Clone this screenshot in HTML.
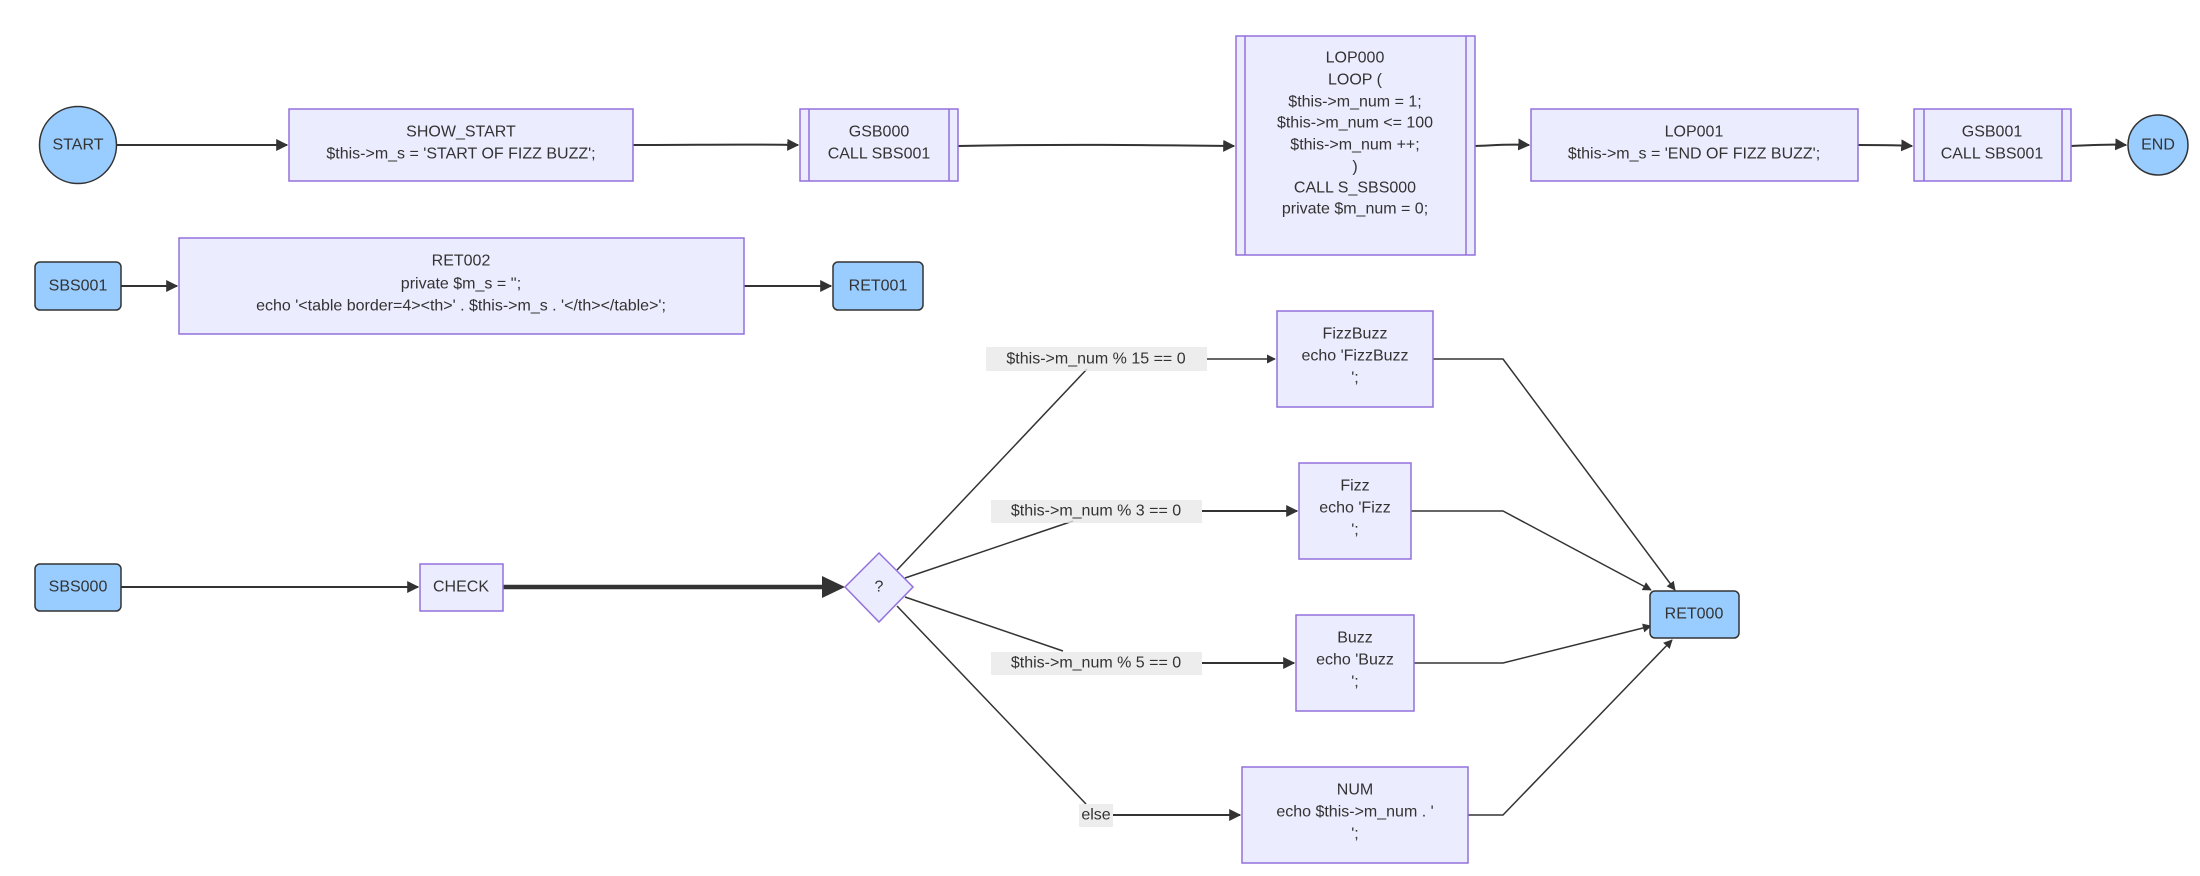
<!DOCTYPE html>
<html><head><meta charset="utf-8"><style>
html,body{margin:0;padding:0;background:#fff;}
svg{display:block;}
text{font-family:"Liberation Sans",sans-serif;font-size:16px;fill:#333;text-anchor:middle;dominant-baseline:central;}
.n{fill:#ECECFF;stroke:#9370DB;stroke-width:1.5;}
.b{fill:#99CCFF;stroke:#333;stroke-width:1.5;}
.e{fill:none;stroke:#333;stroke-width:2;}
.t{fill:none;stroke:#333;stroke-width:1.5;}
.lb{fill:#e8e8e8;opacity:0.8;}
</style></head><body>
<svg width="2200" height="876" viewBox="0 0 2200 876" xmlns="http://www.w3.org/2000/svg">
<defs>
<marker id="a" viewBox="0 0 10 10" refX="9" refY="5" markerWidth="6" markerHeight="6" orient="auto"><path d="M0,0 L10,5 L0,10 z" fill="#333"/></marker>
</defs>

<!-- top row edges -->
<path class="e" d="M117,145 L287,145" marker-end="url(#a)"/>
<path class="e" d="M633,145 C700,145 740,144 798,145" marker-end="url(#a)"/>
<path class="e" d="M958,146 C1060,144 1150,145 1234,146" marker-end="url(#a)"/>
<path class="e" d="M1475,146 C1500,145 1510,144 1529,145" marker-end="url(#a)"/>
<path class="e" d="M1858,145 C1880,145 1895,145 1912,146" marker-end="url(#a)"/>
<path class="e" d="M2071,146 C2095,145 2110,144 2126,145" marker-end="url(#a)"/>

<!-- top row nodes -->
<circle class="b" cx="78" cy="145" r="38.5"/>
<text x="78" y="145">START</text>

<rect class="n" x="289" y="109" width="344" height="72"/>
<text x="461" y="132">SHOW_START</text>
<text x="461" y="154">$this-&gt;m_s = 'START OF FIZZ BUZZ';</text>

<rect class="n" x="800" y="109" width="158" height="72"/>
<line class="n" x1="809" y1="109" x2="809" y2="181"/>
<line class="n" x1="949" y1="109" x2="949" y2="181"/>
<text x="879" y="132">GSB000</text>
<text x="879" y="154">CALL SBS001</text>

<rect class="n" x="1236" y="36" width="239" height="219"/>
<line class="n" x1="1245" y1="36" x2="1245" y2="255"/>
<line class="n" x1="1466" y1="36" x2="1466" y2="255"/>
<text x="1355" y="58">LOP000</text>
<text x="1355" y="80">LOOP (</text>
<text x="1355" y="102">$this-&gt;m_num = 1;</text>
<text x="1355" y="123">$this-&gt;m_num &lt;= 100</text>
<text x="1355" y="145">$this-&gt;m_num ++;</text>
<text x="1355" y="167">)</text>
<text x="1355" y="188">CALL S_SBS000</text>
<text x="1355" y="209">private $m_num = 0;</text>

<rect class="n" x="1531" y="109" width="327" height="72"/>
<text x="1694" y="132">LOP001</text>
<text x="1694" y="154">$this-&gt;m_s = 'END OF FIZZ BUZZ';</text>

<rect class="n" x="1914" y="109" width="157" height="72"/>
<line class="n" x1="1924" y1="109" x2="1924" y2="181"/>
<line class="n" x1="2062" y1="109" x2="2062" y2="181"/>
<text x="1992" y="132">GSB001</text>
<text x="1992" y="154">CALL SBS001</text>

<circle class="b" cx="2158" cy="145" r="30"/>
<text x="2158" y="145">END</text>

<!-- second row -->
<path class="e" d="M121,286 L177,286" marker-end="url(#a)"/>
<path class="e" d="M744,286 L831,286" marker-end="url(#a)"/>
<rect class="b" x="35" y="262" width="86" height="48" rx="5"/>
<text x="78" y="286">SBS001</text>
<rect class="n" x="179" y="238" width="565" height="96"/>
<text x="461" y="261">RET002</text>
<text x="461" y="284">private $m_s = '';</text>
<text x="461" y="306">echo '&lt;table border=4&gt;&lt;th&gt;' . $this-&gt;m_s . '&lt;/th&gt;&lt;/table&gt;';</text>
<rect class="b" x="833" y="262" width="90" height="48" rx="5"/>
<text x="878" y="286">RET001</text>

<!-- third section edges -->
<path class="e" d="M121,587 L418,587" marker-end="url(#a)"/>
<path fill="none" stroke="#333" stroke-width="4.5" d="M503,587 L825,587"/>
<path d="M822,576 L845,587 L822,598 z" fill="#333"/>

<path class="t" d="M897,570 L1087,369"/>
<path class="t" d="M1207,359 L1275,359" marker-end="url(#a)"/>
<path class="t" d="M905,578 L1073,521"/>
<path class="e" d="M1202,511 L1297,511" marker-end="url(#a)"/>
<path class="t" d="M905,597 L1063,651"/>
<path class="e" d="M1202,663 L1294,663" marker-end="url(#a)"/>
<path class="t" d="M897,606 L1086,804"/>
<path class="e" d="M1113,815 L1240,815" marker-end="url(#a)"/>

<path class="t" d="M1433,359 L1503,359 L1675,590" marker-end="url(#a)"/>
<path class="t" d="M1411,511 L1503,511 L1651,590" marker-end="url(#a)"/>
<path class="t" d="M1414,663 L1503,663 L1651,626" marker-end="url(#a)"/>
<path class="t" d="M1468,815 L1503,815 L1672,640" marker-end="url(#a)"/>

<!-- labels -->
<rect class="lb" x="986" y="347" width="221" height="24"/>
<text x="1096" y="359">$this-&gt;m_num % 15 == 0</text>
<rect class="lb" x="991" y="500" width="211" height="23"/>
<text x="1096" y="511">$this-&gt;m_num % 3 == 0</text>
<rect class="lb" x="991" y="652" width="211" height="23"/>
<text x="1096" y="663">$this-&gt;m_num % 5 == 0</text>
<rect class="lb" x="1079" y="804" width="34" height="23"/>
<text x="1096" y="815">else</text>

<!-- third section nodes -->
<rect class="b" x="35" y="564" width="86" height="47" rx="5"/>
<text x="78" y="587">SBS000</text>
<rect class="n" x="420" y="564" width="83" height="47"/>
<text x="461" y="587">CHECK</text>
<polygon class="n" points="879,553 913,587 879,622 845,587"/>
<text x="879" y="587">?</text>

<rect class="n" x="1277" y="311" width="156" height="96"/>
<text x="1355" y="334">FizzBuzz</text>
<text x="1355" y="356">echo 'FizzBuzz</text>
<text x="1355" y="378">';</text>

<rect class="n" x="1299" y="463" width="112" height="96"/>
<text x="1355" y="486">Fizz</text>
<text x="1355" y="508">echo 'Fizz</text>
<text x="1355" y="530">';</text>

<rect class="n" x="1296" y="615" width="118" height="96"/>
<text x="1355" y="638">Buzz</text>
<text x="1355" y="660">echo 'Buzz</text>
<text x="1355" y="682">';</text>

<rect class="n" x="1242" y="767" width="226" height="96"/>
<text x="1355" y="790">NUM</text>
<text x="1355" y="812">echo $this-&gt;m_num . '</text>
<text x="1355" y="834">';</text>

<rect class="b" x="1650" y="591" width="89" height="47" rx="5"/>
<text x="1694" y="614">RET000</text>
</svg>
</body></html>
